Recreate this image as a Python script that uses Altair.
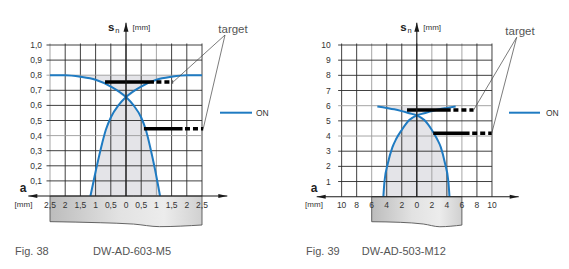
import altair as alt
import pandas as pd

FONT = "Liberation Sans"
BLUE = "#1f7bc2"
GRID = "#2b2b2b"
GRID_LIGHT = "#9c9c9c"
FILL = "#e4e4e8"
TEXT = "#333333"

# ---------------- left chart: DW-AD-603-M5 ----------------
L_x_ticks = [-2.5, -2.0, -1.5, -1.0, -0.5, 0.0, 0.5, 1.0, 1.5, 2.0, 2.5]
L_x_labels = ["2,5", "2", "1,5", "1", "0,5", "0", "0,5", "1", "1,5", "2", "2,5"]
L_y_ticks = [0.1, 0.2, 0.3, 0.4, 0.5, 0.6, 0.7, 0.8, 0.9, 1.0]
L_y_labels = ["0,1", "0,2", "0,3", "0,4", "0,5", "0,6", "0,7", "0,8", "0,9", "1,0"]
L_light_x = [-2.5, 1.0]
L_light_y = [0.4, 0.8]
L_curve_a_x = [-2.5, -2.0, -1.5, -1.0, -0.5, 0.0, 0.25, 0.5, 0.65, 0.8, 0.95, 1.12]
L_curve_a_y = [0.80, 0.80, 0.79, 0.77, 0.725, 0.655, 0.60, 0.52, 0.44, 0.32, 0.18, 0.0]
L_curve_b_x = [2.5, 2.0, 1.5, 1.0, 0.5, 0.0, -0.25, -0.5, -0.66, -0.82, -0.98, -1.17]
L_curve_b_y = [0.80, 0.80, 0.79, 0.77, 0.725, 0.655, 0.60, 0.52, 0.44, 0.32, 0.18, 0.0]
L_target_y = [0.755, 0.445]
L_target_from = [-0.69, 0.59]
L_target_solid_to = [0.92, 1.86]
L_target_dash_from = [1.0, 1.94]
L_target_to = [1.55, 2.54]
L_block_x = [-2.5, -0.85, 0.25, 1.1, 2.5]
L_block_bottom = [-0.170, -0.177, -0.186, -0.203, -0.192]
L_fig = "Fig. 38"
L_model = "DW-AD-603-M5"

# ---------------- right chart: DW-AD-503-M12 ----------------
R_x_ticks = [-10, -8, -6, -4, -2, 0, 2, 4, 6, 8, 10]
R_x_labels = ["10", "8", "6", "4", "2", "0", "2", "4", "6", "8", "10"]
R_y_ticks = [1, 2, 3, 4, 5, 6, 7, 8, 9, 10]
R_y_labels = ["1", "2", "3", "4", "5", "6", "7", "8", "9", "10"]
R_light_x = [-6, 2, 6]
R_light_y = [4, 6]
R_curve_a_x = [-5.25, -4.0, -3.0, -2.0, -1.0, 0.0, 1.0, 2.0, 2.7, 3.2, 3.75, 4.2, 4.35]
R_curve_a_y = [5.95, 5.85, 5.76, 5.64, 5.5, 5.36, 5.05, 4.4, 3.8, 3.25, 2.2, 1.0, 0.0]
R_curve_b_x = [5.17, 4.0, 3.0, 2.0, 1.0, 0.0, -1.0, -2.0, -2.75, -3.25, -3.85, -4.3, -4.45]
R_curve_b_y = [5.95, 5.85, 5.76, 5.64, 5.5, 5.36, 5.05, 4.4, 3.8, 3.25, 2.2, 1.0, 0.0]
R_target_y = [5.71, 4.18]
R_target_from = [-1.3, 2.19]
R_target_solid_to = [4.51, 7.02]
R_target_dash_from = [4.87, 7.37]
R_target_to = [7.55, 9.97]
R_block_x = [-6.0, -2.2, 0.86, 3.07, 6.0]
R_block_bottom = [-1.65, -1.69, -1.80, -1.98, -1.87]
R_fig = "Fig. 39"
R_model = "DW-AD-503-M12"

# ---------------- layout (panel pixels) ----------------
L_frame = dict(width=290, height=269, x0=126.0, kx=30.4, y0=196.0, ky=151.0)
R_frame = dict(width=279, height=269, x0=126.8, kx=7.517, y0=196.7, ky=15.17)
L_pos = dict(ylab_x=42, xlab_y=205, a=(23, 188), unit_x=(23.5, 205), s=(114.5, 28.3),
             n=(115.2, 31.3), unit_y=(132.5, 28.3), up_tip=22.7, left_tip=28.3, right_tip=227.3,
             target=(233, 30), apex=(225, 35), on_line=(220, 252, 112.7), on_text=(256, 112.7),
             fig=(15, 252), model=(93, 252))
R_pos = dict(ylab_x=40.7, xlab_y=205, a=(24, 188.3), unit_x=(24, 205), s=(116.7, 28.3),
             n=(117.4, 31.3), unit_y=(133.3, 28.3), up_tip=22.7, left_tip=26.7, right_tip=228.7,
             target=(230, 32.3), apex=(226.7, 37.3), on_line=(219, 250, 112.7), on_text=(256, 112.7),
             fig=(16, 252), model=(71.7, 252))

BLOCK_FILL = alt.LinearGradient(
    gradient="linear",
    stops=[alt.GradientStop(color="#bcbcbc", offset=0),
           alt.GradientStop(color="#e2e2e2", offset=0.45),
           alt.GradientStop(color="#ececec", offset=0.75),
           alt.GradientStop(color="#d0d0d0", offset=1)],
    x1=0, x2=1, y1=0, y2=0)


def build_panel(F, P, d):
    W, H = F["width"], F["height"]
    X = lambda p: (p - F["x0"]) / F["kx"]
    Y = lambda q: (F["y0"] - q) / F["ky"]
    xs = alt.Scale(domain=[X(0), X(W)], nice=False, zero=False)
    ys = alt.Scale(domain=[Y(H), Y(0)], nice=False, zero=False)
    ex = lambda f: alt.X(f, type="quantitative", scale=xs, axis=None)
    ey = lambda f: alt.Y(f, type="quantitative", scale=ys, axis=None)
    layers = []

    # hourglass shading
    A = list(zip(d["ax"], d["ay"]))
    B = list(zip(d["bx"], d["by"]))
    bell = sorted([p for p in B if p[0] <= 0] + [p for p in A if p[0] > 0])
    vee = sorted([p for p in A if p[0] <= 0] + [p for p in B if p[0] > 0])
    top = max(d["ay"])
    df_bell = pd.DataFrame({"x": [p[0] for p in bell], "y": [p[1] for p in bell], "y2": 0.0})
    df_vee = pd.DataFrame({"x": [p[0] for p in vee], "y": [p[1] for p in vee], "y2": top})
    for df in (df_bell, df_vee):
        layers.append(alt.Chart(df).mark_area(interpolate="monotone", color=FILL).encode(
            x=ex("x"), y=ey("y"), y2="y2"))

    # sensor block below the axis
    df_block = pd.DataFrame({"x": d["block_x"], "y": d["block_y"], "y2": 0.0})
    layers.append(alt.Chart(df_block).mark_area(
        interpolate="monotone", color=BLOCK_FILL, stroke="#555555", strokeWidth=0.9).encode(
        x=ex("x"), y=ey("y"), y2="y2"))

    # grid
    xt, yt = d["xt"], d["yt"]
    ext_x = 3.5 / F["kx"]
    ext_y = 1.5 / F["ky"]
    gv = pd.DataFrame({"x": xt, "y": 0.0, "y2": max(yt) + ext_y,
                       "c": [GRID_LIGHT if v in d["light_x"] else GRID for v in xt]})
    gh = pd.DataFrame({"y": yt, "x": min(xt) - ext_x, "x2": max(xt),
                       "c": [GRID_LIGHT if v in d["light_y"] else GRID for v in yt]})
    layers.append(alt.Chart(gv).mark_rule(strokeWidth=0.9).encode(
        x=ex("x"), y=ey("y"), y2="y2", color=alt.Color("c:N", scale=None)))
    layers.append(alt.Chart(gh).mark_rule(strokeWidth=0.9).encode(
        y=ey("y"), x=ex("x"), x2="x2", color=alt.Color("c:N", scale=None)))

    # curves
    dfc = pd.concat([pd.DataFrame({"x": d["ax"], "y": d["ay"], "s": "a"}),
                     pd.DataFrame({"x": d["bx"], "y": d["by"], "s": "b"})])
    layers.append(alt.Chart(dfc).mark_line(interpolate="monotone", color=BLUE, strokeWidth=2).encode(
        x=ex("x"), y=ey("y"), detail="s:N"))

    # target bars
    dft = pd.DataFrame({"y": d["ty"], "x": d["tfrom"], "x2": d["tsolid"],
                        "xd": d["tdash"], "xe": d["tto"]})
    layers.append(alt.Chart(dft).mark_rule(color="black", strokeWidth=3.5).encode(
        x=ex("x"), x2="x2", y=ey("y")))
    layers.append(alt.Chart(dft).mark_rule(color="black", strokeWidth=3.5, strokeDash=[5, 3]).encode(
        x=ex("xd"), x2="xe", y=ey("y")))

    # leader lines from "target"
    ax_, ay_ = X(P["apex"][0]), Y(P["apex"][1])
    dfl = pd.DataFrame({"x": ax_, "y": ay_, "x2": d["tto"], "y2": d["ty"]})
    layers.append(alt.Chart(dfl).mark_rule(color="#444444", strokeWidth=0.7).encode(
        x=ex("x"), y=ey("y"), x2="x2", y2="y2"))

    # axes
    dfa = pd.DataFrame({"x": [X(P["left_tip"]), 0.0], "x2": [X(P["right_tip"]), 0.0],
                        "y": [0.0, 0.0], "y2": [0.0, Y(P["up_tip"])]})
    layers.append(alt.Chart(dfa).mark_rule(color="#1a1a1a", strokeWidth=1.1).encode(
        x=ex("x"), x2="x2", y=ey("y"), y2="y2"))
    arrows = [("M0,0L2,-0.45L2,0.45Z", X(P["left_tip"]), 0.0),
              ("M0,0L-2,-0.45L-2,0.45Z", X(P["right_tip"]), 0.0),
              ("M0,0L-0.55,2L0.55,2Z", 0.0, Y(P["up_tip"]))]
    for shp, xv, yv in arrows:
        layers.append(alt.Chart(pd.DataFrame({"x": [xv], "y": [yv]})).mark_point(
            shape=shp, filled=True, size=81, color="#1a1a1a", opacity=1, strokeWidth=0).encode(
            x=ex("x"), y=ey("y")))

    # ON legend
    ol = P["on_line"]
    layers.append(alt.Chart(pd.DataFrame({"x": [X(ol[0])], "x2": [X(ol[1])], "y": [Y(ol[2])]}))
                  .mark_rule(color=BLUE, strokeWidth=2).encode(x=ex("x"), x2="x2", y=ey("y")))

    # tick labels
    dyl = pd.DataFrame({"x": X(P["ylab_x"]), "y": yt, "t": d["yl"]})
    layers.append(alt.Chart(dyl).mark_text(align="right", baseline="middle", font=FONT,
                                           fontSize=8.5, color=TEXT).encode(
        x=ex("x"), y=ey("y"), text="t:N"))
    dxl = pd.DataFrame({"x": xt, "y": Y(P["xlab_y"]), "t": d["xl"]})
    layers.append(alt.Chart(dxl).mark_text(align="center", baseline="middle", font=FONT,
                                           fontSize=8.5, color=TEXT).encode(
        x=ex("x"), y=ey("y"), text="t:N"))

    def txt(items, **kw):
        df = pd.DataFrame({"x": [X(p[0]) for p, _ in items], "y": [Y(p[1]) for p, _ in items],
                           "t": [t for _, t in items]})
        return alt.Chart(df).mark_text(baseline="middle", font=FONT, **kw).encode(
            x=ex("x"), y=ey("y"), text="t:N")

    layers.append(txt([(P["a"], "a")], align="center", fontSize=12, fontWeight="bold", color="#222222"))
    layers.append(txt([(P["s"], "s")], align="right", fontSize=11.5, fontWeight="bold", color="#222222"))
    layers.append(txt([(P["n"], "n")], align="left", fontSize=7.5, color="#222222"))
    layers.append(txt([(P["unit_x"], "[mm]")], align="center", fontSize=8, color=TEXT))
    layers.append(txt([(P["unit_y"], "[mm]")], align="left", fontSize=8, color=TEXT))
    layers.append(txt([(P["target"], "target")], align="center", fontSize=11.5, color="#555555"))
    layers.append(txt([(P["on_text"], "ON")], align="left", fontSize=8.5, color=TEXT))
    layers.append(txt([(P["fig"], d["fig"]), (P["model"], d["model"])], align="left",
                      fontSize=11, color="#555555"))

    return alt.layer(*layers).properties(width=W, height=H)


L_data = dict(xt=L_x_ticks, xl=L_x_labels, yt=L_y_ticks, yl=L_y_labels,
              light_x=L_light_x, light_y=L_light_y,
              ax=L_curve_a_x, ay=L_curve_a_y, bx=L_curve_b_x, by=L_curve_b_y,
              ty=L_target_y, tfrom=L_target_from, tsolid=L_target_solid_to,
              tdash=L_target_dash_from, tto=L_target_to,
              block_x=L_block_x, block_y=L_block_bottom, fig=L_fig, model=L_model)
R_data = dict(xt=R_x_ticks, xl=R_x_labels, yt=R_y_ticks, yl=R_y_labels,
              light_x=R_light_x, light_y=R_light_y,
              ax=R_curve_a_x, ay=R_curve_a_y, bx=R_curve_b_x, by=R_curve_b_y,
              ty=R_target_y, tfrom=R_target_from, tsolid=R_target_solid_to,
              tdash=R_target_dash_from, tto=R_target_to,
              block_x=R_block_x, block_y=R_block_bottom, fig=R_fig, model=R_model)

left = build_panel(L_frame, L_pos, L_data)
right = build_panel(R_frame, R_pos, R_data)

chart = alt.hconcat(left, right, spacing=0, padding=0, background="white").configure_view(stroke=None)
chart.save("out.html", embed_options={"renderer": "svg", "actions": False})
